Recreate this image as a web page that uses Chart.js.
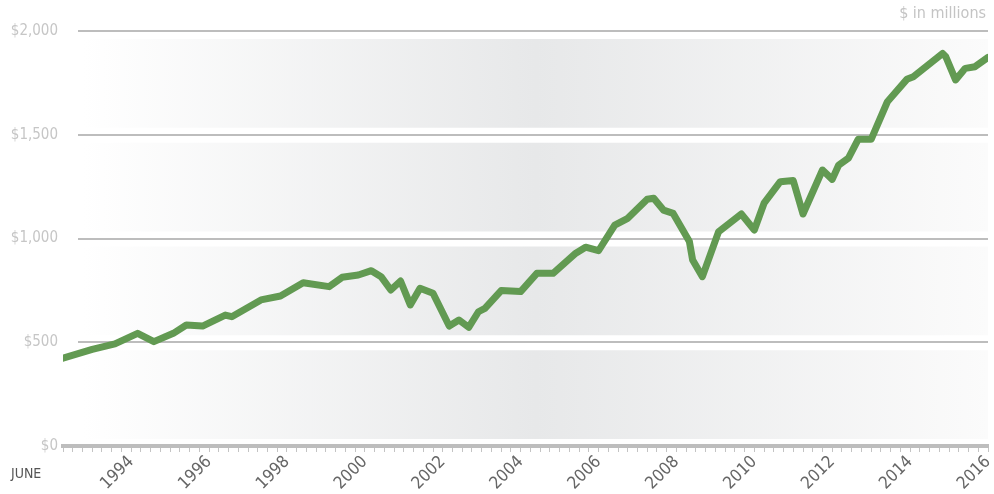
<!DOCTYPE html>
<html>
<head>
<meta charset="utf-8">
<script src="https://cdn.jsdelivr.net/npm/chart.js@4"></script>
<style>
    html, body { margin: 0; padding: 0; background: #fff; }
    #wrap { width: 994px; height: 494px; position: relative; }
</style>
</head>
<body>
<div id="wrap"><canvas id="chart" width="994" height="494"></canvas></div>
<script>
// Line vertices ($ millions)
const months = [
    '1992-09', '1993-06', '1994-01', '1994-08', '1995-01', '1995-07', '1995-11', '1996-04',
    '1996-11', '1997-01', '1997-10', '1998-04', '1998-11', '1999-07', '1999-11', '2000-04',
    '2000-08', '2000-11', '2001-02', '2001-05', '2001-08', '2001-11', '2002-03', '2002-08',
    '2002-11', '2003-02', '2003-05', '2003-07', '2003-12', '2004-06', '2004-11', '2005-04',
    '2005-11', '2006-02', '2006-06', '2006-11', '2007-03', '2007-09', '2007-11', '2008-02',
    '2008-05', '2008-10', '2008-11', '2009-02', '2009-07', '2010-02', '2010-06', '2010-09',
    '2011-02', '2011-06', '2011-09', '2012-03', '2012-06', '2012-08', '2012-11', '2013-02',
    '2013-06', '2013-11', '2014-05', '2014-07', '2015-04', '2015-05', '2015-08', '2015-11',
    '2016-02', '2016-06'
];
const values = [
    423, 466, 492, 543, 503, 543, 583, 578,
    631, 623, 704, 723, 787, 768, 813, 824,
    845, 816, 752, 795, 680, 760, 736, 578,
    607, 572, 647, 663, 749, 744, 832, 832,
    929, 958, 941, 1065, 1097, 1189, 1194, 1137,
    1121, 985, 896, 816, 1033, 1118, 1041, 1170,
    1274, 1279, 1118, 1330, 1285, 1354, 1387, 1478,
    1478, 1659, 1767, 1780, 1892, 1876, 1764, 1820,
    1828, 1873
];
const yTicks = [0, 500, 1000, 1500, 2000];
const yearLabels = ['1994', '1996', '1998', '2000', '2002', '2004', '2006', '2008', '2010', '2012', '2014', '2016'];
const startMonth = '1992-09';
const endMonth = '2016-06';
const labelMonth = '06';
const axisNote = 'JUNE';
const unitNote = '$ in millions';

const FONT = "'Liberation Sans Narrow', 'DejaVu Sans Condensed', sans-serif";

// months since Jan 1992
function toX(s) {
    const [yr, mo] = s.split('-').map(Number);
    return (yr - 1992) * 12 + (mo - 1);
}

const labelAt = {};
yearLabels.forEach(y => { labelAt[toX(y + '-' + labelMonth)] = y; });

const bandsPlugin = {
    id: 'bands',
    beforeDatasetsDraw(chart) {
        const { ctx, chartArea, scales: { y } } = chart;
        const left = chartArea.left + 20;
        const right = chartArea.right;
        const grad = ctx.createLinearGradient(left, 0, right, 0);
        grad.addColorStop(0, '#ffffff');
        grad.addColorStop(0.5, '#e7e8e9');
        grad.addColorStop(1, '#fbfbfb');
        ctx.save();
        ctx.fillStyle = grad;
        for (let i = 0; i < yTicks.length - 1; i++) {
            const top = y.getPixelForValue(yTicks[i + 1]) + 8;
            const bottom = y.getPixelForValue(yTicks[i]) - 7;
            ctx.fillRect(left, top, right - left, bottom - top);
        }
        // horizontal rules (not at $0, the axis draws that one)
        ctx.strokeStyle = '#bdbdbd';
        ctx.lineWidth = 2;
        yTicks.forEach(v => {
            if (v === 0) return;
            const py = Math.round(y.getPixelForValue(v));
            ctx.beginPath();
            ctx.moveTo(chartArea.left + 15, py);
            ctx.lineTo(right, py);
            ctx.stroke();
        });
        ctx.restore();
    },
    afterDraw(chart) {
        const { ctx, chartArea } = chart;
        ctx.save();
        ctx.font = '16px ' + FONT;
        ctx.fillStyle = '#c4c4c4';
        ctx.textAlign = 'right';
        ctx.textBaseline = 'middle';
        ctx.fillText(unitNote, chartArea.right - 2, 14);
        ctx.font = '14px ' + FONT;
        ctx.fillStyle = '#555';
        ctx.textAlign = 'left';
        ctx.fillText(axisNote, 11, 474);
        ctx.restore();
    }
};

const ctx = document.getElementById('chart').getContext('2d');
new Chart(ctx, {
    type: 'line',
    data: {
        datasets: [{
            data: months.map((m, i) => ({ x: toX(m), y: values[i] })),
            borderColor: '#629a52',
            borderWidth: 7,
            borderJoinStyle: 'round',
            borderCapStyle: 'round',
            pointRadius: 0,
            tension: 0,
            fill: false
        }]
    },
    options: {
        responsive: false,
        animation: false,
        layout: { padding: { top: 31, right: 6, left: 0, bottom: 0 } },
        plugins: {
            legend: { display: false },
            tooltip: { enabled: false }
        },
        scales: {
            x: {
                type: 'linear',
                min: toX(startMonth),
                max: toX(endMonth),
                ticks: {
                    stepSize: 3,
                    autoSkip: false,
                    minRotation: 45,
                    maxRotation: 45,
                    padding: 0,
                    color: '#666',
                    font: { family: FONT, size: 17 },
                    callback: v => labelAt[v] || ''
                },
                grid: {
                    drawOnChartArea: false,
                    drawTicks: true,
                    tickLength: 6,
                    tickColor: '#c4c4c4',
                    lineWidth: 1
                },
                border: { display: true, color: '#bdbdbd', width: 4 },
                afterFit: s => {
                    s.height = 48;
                    s.paddingLeft = 0;
                    s.paddingRight = 0;
                }
            },
            y: {
                min: 0,
                max: 2000,
                ticks: {
                    stepSize: 500,
                    padding: -3,
                    color: '#c6c6c6',
                    font: { family: FONT, size: 15 },
                    callback: v => '$' + v.toLocaleString('en-US')
                },
                grid: { display: false },
                border: { display: false },
                afterFit: s => { s.width = 63; }
            }
        }
    },
    plugins: [bandsPlugin]
});
</script>
</body>
</html>
